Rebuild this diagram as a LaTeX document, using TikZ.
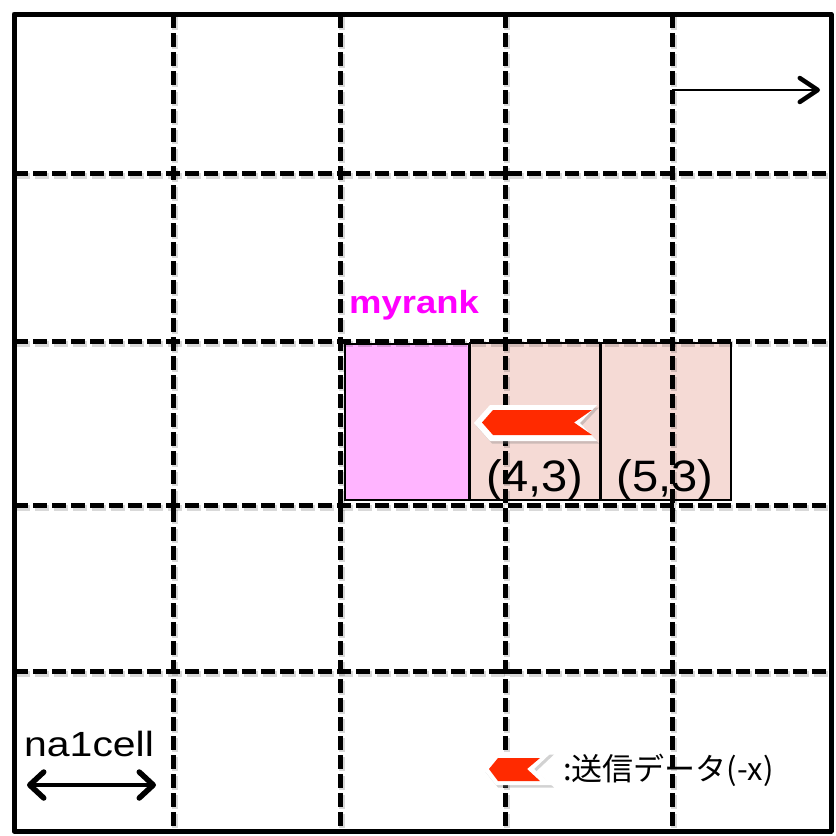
\documentclass[tikz,border=0pt]{standalone}
\usepackage{fontspec}
\setmainfont{Liberation Sans}
\newfontfamily\jpfont{Noto Sans CJK JP}
\usetikzlibrary{arrows.meta,shadows}
\definecolor{rankfill}{RGB}{255,180,255}
\definecolor{nbrfill}{RGB}{245,218,213}
\definecolor{flagred}{RGB}{255,42,0}
\definecolor{rankmag}{RGB}{255,0,255}
\begin{document}
\begin{tikzpicture}[x=1pt,y=-1pt,
  gridline/.style={line width=5pt, dash pattern=on 14pt off 5pt},
  gridshadow/.style={gridline, draw=black, draw opacity=0.15, line width=6pt},
  border/.style={line width=5pt, line join=round},
  cellbox/.style={draw=black, line width=1.2pt},
  flagout/.style={fill=white, drop shadow={shadow xshift=2pt, shadow yshift=-2.5pt, opacity=0.35}},
  flagin/.style={fill=flagred},
  lbl/.style={inner sep=0pt, font=\fontsize{44}{44}\selectfont}
]
\useasboundingbox (0,0) rectangle (836,836);
\fill[white] (0,0) rectangle (836,836);

% highlighted cells
\draw[cellbox, fill=rankfill] (345,344) rectangle (469,500);
\draw[cellbox, fill=nbrfill] (470,343) rectangle (600,500);
\draw[cellbox, fill=nbrfill] (601,343) rectangle (731,500);

% grid
\foreach \x in {173,340,505,672} \draw[gridshadow] (\x+2,16) -- (\x+2,829);
\foreach \y in {173,341,505,671} \draw[gridshadow] (16,\y+3) -- (829,\y+3);
\foreach \x in {173,340,505,672} \draw[gridline] (\x,14) -- (\x,831);
\foreach \y in {173,341,505,671} \draw[gridline] (14,\y) -- (831,\y);
\draw[border] (14,14) rectangle (831,831);

% labels
\node[inner sep=0pt, anchor=base west, text=rankmag, font=\bfseries\fontsize{32}{32}\selectfont] (myrank) at (349,313) {\scalebox{1.14}[1]{myrank}};
\node[lbl, anchor=base] (c43) at (535,491) {\scalebox{1.07}[1]{(4,3)}};
\node[lbl, anchor=base] (c53) at (665,491) {\scalebox{1.07}[1]{(5,3)}};
\node[inner sep=0pt, anchor=base west, font=\fontsize{35}{35}\selectfont] (na) at (24,756) {\scalebox{1.17}[1]{na1cell}};
\node[inner sep=0pt, anchor=west, font=\jpfont\fontsize{31}{31}\selectfont] (leg) at (563,770) {:送信データ(-x)};

% flags
\path[flagout] (474,423) -- (490,405) -- (597,405) -- (580,423) -- (597,441) -- (490,441) -- cycle;
\path[flagin] (482,422.5) -- (493,410) -- (592,410) -- (574,422.5) -- (592,435) -- (493,435) -- cycle;
\path[flagout] (483,769) -- (496,752) -- (552,752) -- (534,769) -- (552,785) -- (496,785) -- cycle;
\path[flagin] (489,769) -- (498,758) -- (540,758) -- (527,769) -- (540,781) -- (498,781) -- cycle;

% arrows
\coordinate (ax1) at (672,90);
\coordinate (ax2) at (820,90);
\draw[line width=2pt, -{Straight Barb[round, length=18pt, width=24pt, line width=4.5pt]}] (ax1) -- (ax2);
\coordinate (na1) at (27,785);
\coordinate (na2) at (156,785);
\draw[line width=4pt, {Straight Barb[round, length=14pt, width=26pt, line width=5.5pt]}-{Straight Barb[round, length=14pt, width=26pt, line width=5.5pt]}] (na1) -- (na2);
\end{tikzpicture}
\end{document}
